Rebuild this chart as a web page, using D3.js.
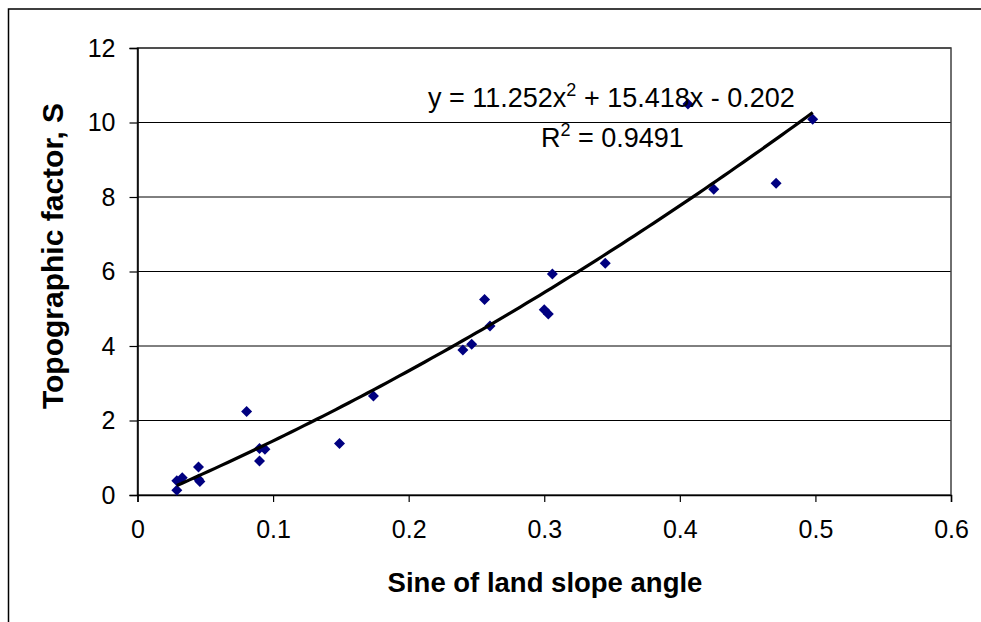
<!DOCTYPE html>
<html>
<head>
<meta charset="utf-8">
<script src="https://cdn.jsdelivr.net/npm/d3@7"></script>
<style>
  body { margin: 0; background: #fff; }
  svg text { font-family: "Liberation Sans", Arial, sans-serif; fill: #000; }
</style>
</head>
<body>
<svg id="chart" width="981" height="622"></svg>
<script>
// sine of slope angle vs topographic factor S
var sineValues = [0.029, 0.029, 0.033, 0.045, 0.045, 0.046, 0.0805, 0.090, 0.094, 0.090,
                  0.149, 0.174, 0.240, 0.2465, 0.256, 0.260, 0.300, 0.303, 0.306, 0.345,
                  0.406, 0.425, 0.471, 0.498];
var factorValues = [0.13, 0.38, 0.46, 0.75, 0.42, 0.36, 2.24, 1.25, 1.23, 0.91,
                    1.38, 2.66, 3.89, 4.05, 5.25, 4.54, 4.97, 4.86, 5.93, 6.22,
                    10.50, 8.21, 8.37, 10.09];
var xTicks = [0, 0.1, 0.2, 0.3, 0.4, 0.5, 0.6];
var yTicks = [0, 2, 4, 6, 8, 10, 12];
var trendCoef = [11.252, 15.418, -0.202]; // a, b, c of the fitted curve

var svg = d3.select("#chart");

var plot = { left: 137.5, right: 951, top: 48, bottom: 495 };

var x = d3.scaleLinear().domain([0, 0.6]).range([plot.left, plot.right]);
var y = d3.scaleLinear().domain([0, 12]).range([plot.bottom, plot.top]);

// outer chart frame (runs off the page right and bottom)
svg.append("rect")
    .attr("x", 8.5).attr("y", 9)
    .attr("width", 1100).attr("height", 700)
    .style("fill", "none")
    .style("stroke", "#000")
    .style("stroke-width", 1.5);

// gridlines
svg.append("g")
    .selectAll("line")
    .data(yTicks.slice(1))
    .enter()
    .append("line")
    .attr("x1", plot.left).attr("x2", plot.right)
    .attr("y1", (d) => y(d)).attr("y2", (d) => y(d))
    .style("stroke", "#000")
    .style("stroke-width", 1);

// plot area border
svg.append("rect")
    .attr("x", plot.left).attr("y", plot.top)
    .attr("width", plot.right - plot.left)
    .attr("height", plot.bottom - plot.top)
    .style("fill", "none")
    .style("stroke", "#404040")
    .style("stroke-width", 1.5);

// axes
var xAxis = d3.axisBottom(x).tickValues(xTicks).tickSize(7).tickPadding(18)
    .tickFormat((d) => d3.format("")(+d.toFixed(1)));
var yAxis = d3.axisLeft(y).tickValues(yTicks).tickSize(8).tickPadding(14);

var gx = svg.append("g")
    .attr("transform", "translate(0," + plot.bottom + ")")
    .call(xAxis);
var gy = svg.append("g")
    .attr("transform", "translate(" + plot.left + ",0)")
    .call(yAxis);

[gx, gy].forEach(function (g) {
    g.select(".domain").style("stroke", "#000").style("stroke-width", 1.5);
    g.selectAll(".tick line").style("stroke", "#000").style("stroke-width", 1.2);
    g.selectAll(".tick text")
        .style("font-family", "'Liberation Sans', Arial, sans-serif")
        .style("font-size", "25px")
        .style("fill", "#000");
});

// points
var points = sineValues.map((d, i) => [d, factorValues[i]]);
svg.append("g")
    .selectAll("path")
    .data(points)
    .enter()
    .append("path")
    .attr("transform", (d) => "translate(" + x(d[0]) + "," + y(d[1]) + ")")
    .attr("d", "M0,-5.5L5.5,0L0,5.5L-5.5,0Z")
    .style("fill", "#000080");

// polynomial trendline over the data range
var xMin = d3.min(sineValues), xMax = d3.max(sineValues);
var trend = d3.range(0, 101).map(function (i) {
    var v = xMin + (xMax - xMin) * i / 100;
    return [v, trendCoef[0] * v * v + trendCoef[1] * v + trendCoef[2]];
});
svg.append("path")
    .datum(trend)
    .attr("d", d3.line().x((d) => x(d[0])).y((d) => y(d[1])))
    .style("fill", "none")
    .style("stroke", "#000")
    .style("stroke-width", 3.2);

// equation labels
var eq = svg.append("text")
    .attr("x", 428).attr("y", 107)
    .style("font-size", "27px");
eq.append("tspan").text("y = 11.252x");
eq.append("tspan").attr("dy", -11).style("font-size", "18px").text("2");
eq.append("tspan").attr("dy", 11).text(" + 15.418x - 0.202");

var r2 = svg.append("text")
    .attr("x", 541).attr("y", 147)
    .style("font-size", "27px");
r2.append("tspan").text("R");
r2.append("tspan").attr("dy", -11).style("font-size", "18px").text("2");
r2.append("tspan").attr("dy", 11).text(" = 0.9491");

// axis titles
svg.append("text")
    .attr("x", 545).attr("y", 592)
    .attr("text-anchor", "middle")
    .style("font-size", "27.5px")
    .style("font-weight", "bold")
    .text("Sine of land slope angle");

svg.append("text")
    .attr("transform", "translate(63,256) rotate(-90)")
    .attr("text-anchor", "middle")
    .style("font-size", "30px")
    .style("font-weight", "bold")
    .text("Topographic factor, S");
</script>
</body>
</html>
